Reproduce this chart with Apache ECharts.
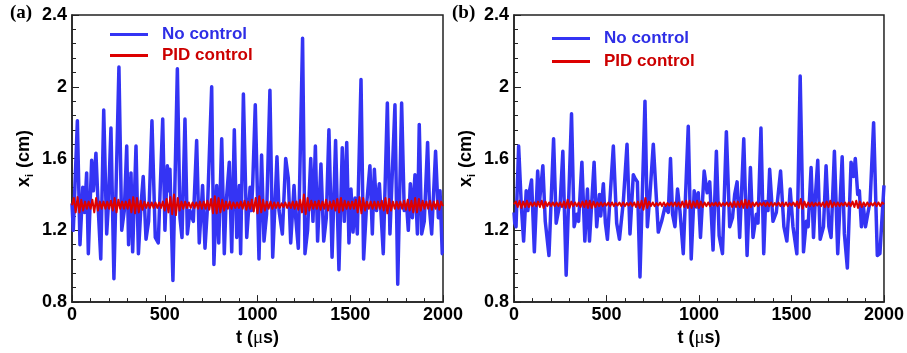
<!DOCTYPE html>
<html>
<head>
<meta charset="utf-8">
<script src="https://cdn.jsdelivr.net/npm/echarts@6/dist/echarts.min.js"></script>
<style>
  html, body { margin: 0; padding: 0; background: #fff; }
  #chart { width: 907px; height: 353px; }
</style>
</head>
<body>
<div id="chart"></div>
<script>
// panel (a): no control, sampled at its turning points
const tNoCtrlA = [0, 7, 29, 43, 58, 68, 79, 88, 106, 115, 129, 142, 155, 171, 187, 196, 210, 226, 253, 268, 282, 295, 305, 318, 327, 345, 358, 372, 384, 399, 413, 431, 449, 465, 489, 501, 514, 521, 528, 544, 568, 582, 593, 609, 622, 636, 654, 672, 686, 704, 717, 731, 753, 765, 780, 791, 807, 821, 830, 848, 861, 875, 888, 902, 909, 924, 942, 960, 967, 974, 988, 1008, 1022, 1035, 1049, 1067, 1082, 1094, 1105, 1116, 1134, 1152, 1166, 1179, 1197, 1206, 1220, 1243, 1256, 1270, 1287, 1299, 1312, 1324, 1342, 1357, 1371, 1385, 1402, 1421, 1439, 1457, 1468, 1481, 1493, 1504, 1515, 1526, 1538, 1558, 1572, 1588, 1606, 1619, 1630, 1642, 1657, 1678, 1700, 1714, 1741, 1756, 1777, 1791, 1804, 1813, 1824, 1835, 1849, 1862, 1872, 1885, 1899, 1917, 1928, 1939, 1960, 1975, 1984, 1996, 2000]
const xNoCtrlA = [1.35, 1.20, 1.81, 1.12, 1.44, 1.30, 1.52, 1.07, 1.59, 1.42, 1.63, 1.31, 1.04, 1.87, 1.18, 1.34, 1.77, 0.93, 2.11, 1.20, 1.31, 1.67, 1.12, 1.52, 1.08, 1.67, 1.07, 1.34, 1.50, 1.15, 1.25, 1.81, 1.16, 1.13, 1.82, 1.20, 1.56, 1.42, 1.54, 0.92, 2.10, 1.27, 1.16, 1.82, 1.18, 1.31, 1.25, 1.70, 1.13, 1.45, 1.10, 1.34, 2.00, 1.01, 1.45, 1.13, 1.71, 1.07, 1.34, 1.58, 1.08, 1.76, 1.16, 1.45, 1.07, 1.96, 1.16, 1.44, 1.31, 1.45, 1.90, 1.04, 1.62, 1.14, 1.29, 1.98, 1.05, 1.34, 1.61, 1.31, 1.18, 1.60, 1.49, 1.13, 1.45, 1.27, 1.10, 2.27, 1.07, 1.20, 1.60, 1.25, 1.67, 1.14, 1.57, 1.14, 1.27, 1.76, 1.05, 1.70, 0.98, 1.66, 1.25, 1.69, 1.13, 1.43, 1.19, 1.38, 1.18, 2.04, 1.04, 1.34, 1.56, 1.18, 1.54, 1.31, 1.46, 1.07, 1.91, 1.18, 1.90, 0.90, 1.91, 1.31, 1.34, 1.20, 1.46, 1.27, 1.51, 1.18, 1.79, 1.18, 1.25, 1.69, 1.31, 1.18, 1.64, 1.27, 1.42, 1.07, 1.07]

// panel (a): PID control, one sample every 10 us
const pidStep = 10
const xPidA = [
  1.34, 1.38, 1.30, 1.385, 1.30, 1.37, 1.31, 1.36, 1.32, 1.36, 1.32, 1.37, 1.30, 1.38, 1.31, 1.36, 1.32, 1.36, 1.32, 1.36,
  1.32, 1.365, 1.31, 1.38, 1.30, 1.37, 1.32, 1.36, 1.32, 1.36, 1.32, 1.37, 1.30, 1.385, 1.295, 1.38, 1.30, 1.365, 1.315, 1.36,
  1.325, 1.355, 1.325, 1.355, 1.325, 1.355, 1.325, 1.355, 1.325, 1.36, 1.31, 1.375, 1.30, 1.385, 1.29, 1.40, 1.285, 1.38, 1.31, 1.36,
  1.32, 1.36, 1.325, 1.355, 1.325, 1.355, 1.325, 1.355, 1.32, 1.36, 1.32, 1.36, 1.32, 1.365, 1.315, 1.375, 1.295, 1.39, 1.295, 1.38,
  1.30, 1.37, 1.31, 1.36, 1.32, 1.36, 1.32, 1.355, 1.325, 1.355, 1.325, 1.36, 1.32, 1.365, 1.315, 1.36, 1.32, 1.37, 1.305, 1.38,
  1.295, 1.39, 1.30, 1.37, 1.31, 1.36, 1.32, 1.36, 1.32, 1.355, 1.325, 1.355, 1.325, 1.35, 1.33, 1.355, 1.325, 1.355, 1.325, 1.36,
  1.32, 1.36, 1.315, 1.37, 1.30, 1.40, 1.29, 1.38, 1.31, 1.365, 1.32, 1.36, 1.32, 1.365, 1.315, 1.36, 1.32, 1.37, 1.31, 1.36,
  1.32, 1.365, 1.31, 1.375, 1.30, 1.38, 1.31, 1.365, 1.32, 1.36, 1.32, 1.36, 1.32, 1.37, 1.30, 1.385, 1.295, 1.38, 1.31, 1.36,
  1.32, 1.36, 1.32, 1.36, 1.32, 1.36, 1.32, 1.365, 1.31, 1.38, 1.295, 1.375, 1.31, 1.36, 1.32, 1.36, 1.32, 1.36, 1.32, 1.365,
  1.315, 1.37, 1.31, 1.365, 1.30, 1.38, 1.30, 1.375, 1.31, 1.365, 1.32, 1.36, 1.32, 1.365, 1.315, 1.36, 1.32, 1.365, 1.315, 1.36,
  1.335
]

// panel (b): no control
const tNoCtrlB = [0, 4, 11, 25, 40, 52, 66, 75, 84, 95, 110, 128, 138, 156, 169, 189, 214, 228, 235, 250, 264, 282, 311, 325, 340, 349, 367, 383, 397, 408, 433, 447, 462, 469, 483, 494, 505, 537, 555, 570, 591, 611, 627, 645, 654, 667, 681, 708, 721, 735, 753, 780, 798, 816, 834, 846, 857, 870, 884, 897, 915, 942, 958, 974, 987, 996, 1008, 1028, 1044, 1058, 1076, 1094, 1109, 1127, 1148, 1166, 1181, 1193, 1206, 1220, 1242, 1260, 1278, 1292, 1310, 1319, 1335, 1350, 1360, 1373, 1382, 1400, 1418, 1441, 1459, 1475, 1493, 1508, 1529, 1547, 1565, 1580, 1590, 1606, 1619, 1630, 1642, 1655, 1673, 1687, 1702, 1714, 1732, 1750, 1774, 1786, 1802, 1822, 1835, 1845, 1858, 1867, 1878, 1889, 1900, 1912, 1925, 1944, 1964, 1978, 1993, 2000]
const xNoCtrlB = [1.30, 1.24, 1.22, 1.67, 1.33, 1.14, 1.42, 1.31, 1.42, 1.48, 1.08, 1.53, 1.36, 1.56, 1.25, 1.06, 1.71, 1.24, 1.25, 1.36, 1.64, 0.95, 1.85, 1.22, 1.29, 1.25, 1.58, 1.14, 1.43, 1.14, 1.58, 1.22, 1.40, 1.28, 1.46, 1.24, 1.15, 1.67, 1.24, 1.15, 1.36, 1.68, 1.18, 1.51, 1.49, 1.47, 0.94, 1.92, 1.22, 1.40, 1.68, 1.19, 1.25, 1.33, 1.30, 1.60, 1.29, 1.22, 1.43, 1.31, 1.07, 1.78, 1.04, 1.42, 1.33, 1.41, 1.16, 1.53, 1.41, 1.47, 1.09, 1.64, 1.17, 1.07, 1.75, 1.22, 1.27, 1.40, 1.47, 1.16, 1.71, 1.06, 1.55, 1.16, 1.29, 1.24, 1.77, 1.07, 1.36, 1.31, 1.54, 1.25, 1.30, 1.53, 1.22, 1.14, 1.43, 1.22, 1.07, 2.06, 1.08, 1.25, 1.22, 1.55, 1.16, 1.40, 1.59, 1.15, 1.22, 1.56, 1.22, 1.16, 1.64, 1.07, 1.61, 1.18, 0.99, 1.58, 1.50, 1.60, 1.40, 1.42, 1.22, 1.33, 1.22, 1.29, 1.36, 1.80, 1.06, 1.07, 1.33, 1.45]

// panel (b): PID control, one sample every 10 us
const xPidB = [
  1.345, 1.36, 1.33, 1.365, 1.325, 1.36, 1.33, 1.365, 1.33, 1.355, 1.335, 1.355, 1.335, 1.36, 1.33, 1.365, 1.325, 1.36, 1.335, 1.355,
  1.335, 1.355, 1.335, 1.355, 1.335, 1.355, 1.33, 1.36, 1.325, 1.37, 1.325, 1.36, 1.335, 1.355, 1.335, 1.355, 1.33, 1.36, 1.33, 1.365,
  1.325, 1.365, 1.325, 1.36, 1.33, 1.355, 1.335, 1.355, 1.335, 1.352, 1.338, 1.355, 1.335, 1.355, 1.335, 1.352, 1.338, 1.355, 1.335, 1.355,
  1.335, 1.352, 1.338, 1.355, 1.335, 1.355, 1.33, 1.36, 1.325, 1.365, 1.315, 1.38, 1.325, 1.36, 1.335, 1.355, 1.335, 1.352, 1.338, 1.355,
  1.335, 1.355, 1.335, 1.352, 1.338, 1.355, 1.335, 1.355, 1.335, 1.355, 1.33, 1.36, 1.33, 1.365, 1.325, 1.365, 1.325, 1.36, 1.33, 1.365,
  1.325, 1.36, 1.33, 1.355, 1.335, 1.355, 1.335, 1.352, 1.338, 1.355, 1.335, 1.355, 1.335, 1.352, 1.338, 1.355, 1.335, 1.355, 1.33, 1.36,
  1.33, 1.36, 1.33, 1.365, 1.325, 1.37, 1.325, 1.365, 1.33, 1.355, 1.335, 1.355, 1.335, 1.352, 1.338, 1.355, 1.335, 1.355, 1.335, 1.355,
  1.335, 1.352, 1.338, 1.355, 1.335, 1.355, 1.335, 1.355, 1.335, 1.352, 1.338, 1.355, 1.335, 1.36, 1.325, 1.375, 1.32, 1.36, 1.33, 1.355,
  1.335, 1.355, 1.335, 1.352, 1.338, 1.355, 1.335, 1.355, 1.33, 1.36, 1.33, 1.365, 1.33, 1.355, 1.335, 1.355, 1.335, 1.352, 1.338, 1.355,
  1.335, 1.355, 1.335, 1.36, 1.33, 1.365, 1.325, 1.36, 1.33, 1.355, 1.335, 1.355, 1.335, 1.352, 1.338, 1.355, 1.335, 1.355, 1.335, 1.355,
  1.345
]

const blue = "#3434f4"
const red = "#dd0000"
const sansBold = { fontFamily: "Liberation Sans", fontWeight: "bold", color: "#000" }

const pairs = (ts, vs) => vs.map((v, i) => [ts[i], v])
const pidPairs = (vs) => vs.map((v, i) => [i * pidStep, v])

const chart = echarts.init(document.getElementById("chart"), null, { renderer: "canvas" })

const grids = [
  { left: 72, top: 15, width: 371, height: 296 },
  { left: 514, top: 15, width: 371, height: 296 },
]

const makeX = (gridIndex) => ({
  type: "value",
  gridIndex,
  min: 0,
  max: 2000,
  interval: 500,
  name: "{a|t (}{mu|μ}{a|s)}",
  nameLocation: "middle",
  nameGap: 20,
  nameTextStyle: {
    rich: {
      a: { ...sansBold, fontSize: 18 },
      mu: { fontFamily: "Liberation Serif", fontSize: 19, color: "#000" },
    },
  },
  axisLine: { show: true, lineStyle: { color: "#222", width: 1.5 } },
  axisTick: { inside: true, length: 7, lineStyle: { color: "#222", width: 1 } },
  minorTick: { show: true, splitNumber: 5, length: 4, lineStyle: { color: "#222", width: 1 } },
  splitLine: { show: false },
  axisLabel: { ...sansBold, fontSize: 18, margin: 4, formatter: (v) => String(v) },
})

const makeY = (gridIndex) => ({
  type: "value",
  gridIndex,
  min: 0.8,
  max: 2.4,
  interval: 0.4,
  name: "{a|x}{sub|i}{a| (cm)}",
  nameLocation: "middle",
  nameGap: 37,
  nameRotate: 90,
  nameTextStyle: {
    rich: {
      a: { ...sansBold, fontSize: 18 },
      sub: { ...sansBold, fontSize: 11, padding: [10, 1, 0, 0] },
    },
  },
  axisLine: { show: true, lineStyle: { color: "#222", width: 1.5 } },
  axisTick: { inside: true, length: 7, lineStyle: { color: "#222", width: 1 } },
  minorTick: { show: true, splitNumber: 5, length: 4, lineStyle: { color: "#222", width: 1 } },
  splitLine: { show: false },
  axisLabel: { ...sansBold, fontSize: 18, margin: 5 },
})

const makeLegend = (left, top, gap) => ({
  orient: "vertical",
  left,
  top,
  icon: "rect",
  itemWidth: 38,
  itemHeight: 3,
  itemGap: gap,
  selectedMode: false,
  textStyle: { fontFamily: "Liberation Sans", fontWeight: "bold", fontSize: 17, padding: [0, 0, 0, 9] },
  data: [
    { name: "No control", itemStyle: { color: blue }, textStyle: { color: "#2e2ee6" } },
    { name: "PID control", itemStyle: { color: red }, textStyle: { color: "#cc0000" } },
  ],
})

const lineSeries = (name, idx, data, color, width) => ({
  name,
  type: "line",
  xAxisIndex: idx,
  yAxisIndex: idx,
  data,
  showSymbol: false,
  symbol: "none",
  lineStyle: { color, width, join: "round" },
  itemStyle: { color },
  animation: false,
})

const option = {
  animation: false,
  backgroundColor: "#fff",
  grid: grids.map((g) => ({ ...g, show: true, borderColor: "#222", borderWidth: 1.5, backgroundColor: "transparent" })),
  xAxis: [makeX(0), makeX(1)],
  yAxis: [makeY(0), makeY(1)],
  legend: [makeLegend(105, 21, 4), makeLegend(547, 25, 6)],
  graphic: [
    { type: "text", left: 10, top: 4, style: { text: "(a)", font: "bold 19px 'Liberation Serif'", fill: "#000" } },
    { type: "text", left: 452, top: 4, style: { text: "(b)", font: "bold 19px 'Liberation Serif'", fill: "#000" } },
  ],
  series: [
    lineSeries("No control", 0, pairs(tNoCtrlA, xNoCtrlA), blue, 3.5),
    lineSeries("PID control", 0, pidPairs(xPidA), red, 2),
    lineSeries("No control", 1, pairs(tNoCtrlB, xNoCtrlB), blue, 3.5),
    lineSeries("PID control", 1, pidPairs(xPidB), red, 2),
  ],
}

chart.setOption(option)
</script>
</body>
</html>
